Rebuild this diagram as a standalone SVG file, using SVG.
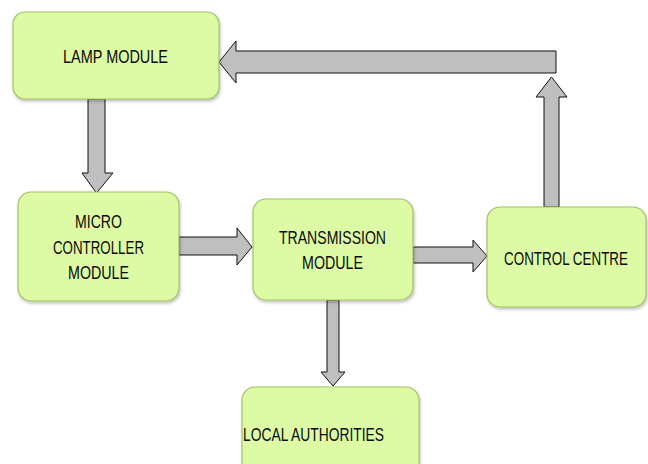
<svg xmlns="http://www.w3.org/2000/svg" width="648" height="464" viewBox="0 0 648 464">
  <defs>
    <filter id="shadow" x="-10%" y="-10%" width="120%" height="130%">
      <feDropShadow dx="1" dy="2" stdDeviation="1.5" flood-color="#000" flood-opacity="0.25"/>
    </filter>
    <style>
      .box { fill: #dcfba4; stroke: #a3c263; stroke-width: 1.2; filter: url(#shadow); }
      .arrow { fill: #bfbfbf; stroke: #111; stroke-width: 1; stroke-linejoin: miter; }
      .label { font-family: "Liberation Sans", Arial, sans-serif; font-size: 18px; fill: #0a0a0a; }
    </style>
  </defs>
  <rect width="648" height="464" fill="#fff"/>

  <!-- block arrows -->
  <g id="connectors">
    <!-- lamp module -> micro controller -->
    <polygon class="arrow" points="88,99 105,99 105,173 113,173 96.5,193 82,173 88,173"/>
    <!-- micro controller -> transmission -->
    <polygon class="arrow" points="179,237 237,237 237,228 252,247 237,265 237,255 179,255"/>
    <!-- transmission -> control centre -->
    <polygon class="arrow" points="413,247 473,247 473,240 487,256 473,272 473,263 413,263"/>
    <!-- transmission -> local authorities -->
    <polygon class="arrow" points="327,300 339,300 339,372 345,372 333,386 321,372 327,372"/>
    <!-- control centre -> lamp module (feedback) -->
    <polygon class="arrow" points="544,207 544,97 536,97 551.5,77 567,97 559,97 559,207"/>
    <polygon class="arrow" points="556,51 556,73 236,73 236,83 219,62 236,41 236,51"/>
  </g>

  <g id="lamp-module">
    <rect class="box" x="13" y="12" width="206" height="87" rx="12"/>
    <text class="label" x="63" y="63" textLength="105" lengthAdjust="spacingAndGlyphs">LAMP MODULE</text>
  </g>

  <g id="micro-controller-module">
    <rect class="box" x="18" y="192" width="161" height="109" rx="13"/>
    <text class="label" x="75" y="228" textLength="47" lengthAdjust="spacingAndGlyphs">MICRO</text>
    <text class="label" x="53" y="254" textLength="91" lengthAdjust="spacingAndGlyphs">CONTROLLER</text>
    <text class="label" x="68" y="279" textLength="61" lengthAdjust="spacingAndGlyphs">MODULE</text>
  </g>

  <g id="transmission-module">
    <rect class="box" x="253" y="199" width="160" height="101" rx="13"/>
    <text class="label" x="279" y="244" textLength="107" lengthAdjust="spacingAndGlyphs">TRANSMISSION</text>
    <text class="label" x="302" y="269" textLength="61" lengthAdjust="spacingAndGlyphs">MODULE</text>
  </g>

  <g id="control-centre">
    <rect class="box" x="487" y="207" width="159" height="100" rx="13"/>
    <text class="label" x="504" y="265" textLength="124" lengthAdjust="spacingAndGlyphs">CONTROL CENTRE</text>
  </g>

  <g id="local-authorities">
    <rect class="box" x="242" y="387" width="177" height="90" rx="13"/>
    <text class="label" x="243" y="441" textLength="141" lengthAdjust="spacingAndGlyphs">LOCAL AUTHORITIES</text>
  </g>
</svg>
